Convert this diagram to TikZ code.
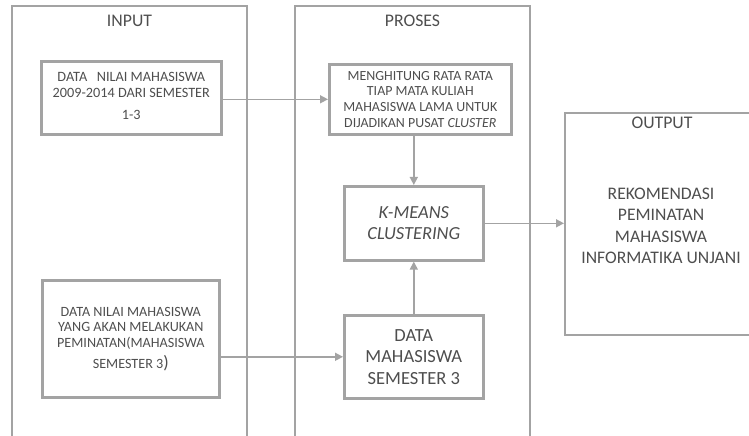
\documentclass[tikz,border=0pt]{standalone}
\usepackage{fontspec}
\setmainfont{Carlito}
\usetikzlibrary{arrows.meta}
\definecolor{frame}{HTML}{A3A3A3}
\definecolor{ink}{HTML}{4E4E4E}
\newcommand{\fs}[2]{\fontsize{#1}{#2}\selectfont}
\begin{document}
\begin{tikzpicture}[x=1bp,y=-1bp,
  panel/.style={draw=frame,line width=2.2bp},
  box/.style={draw=frame,line width=2.6bp,inner sep=0pt,text=ink,align=center,anchor=north west},
  title/.style={text=ink,font=\fs{17.8}{21}},
  link/.style={draw=frame,line width=1.5bp,-{Triangle[length=8bp,width=8bp]}}]
\useasboundingbox (0,0) rectangle (749,436);
\clip (0,0) rectangle (749,436);

% column frames, open at the bottom
\draw[panel] (12,440) |- (247,6) -- (247,440);
\draw[panel] (295,440) |- (530,6) -- (530,440);
\node[panel,anchor=north west,minimum width=220bp,minimum height=222bp,inner sep=0pt] (outp) at (564,112) {};

\node[title] (tin) at (129.5,21) {INPUT};
\node[title] (tpro) at (412.5,21) {PROSES};
\node[title] (tout) at (662,123) {OUTPUT};

% input boxes
\node[box,minimum width=180bp,minimum height=73bp,font=\fs{14.3}{15.5}] (b1) at (40,60)
  {\raisebox{2.5bp}{\begin{tabular}{@{}c@{}}DATA\ \ \ NILAI MAHASISWA\\2009-2014 DARI SEMESTER\\[7bp]1-3\end{tabular}}};
\node[box,minimum width=177bp,minimum height=117bp,font=\fs{14.2}{15.6}] (b3) at (41,279)
  {DATA NILAI MAHASISWA\\YANG AKAN MELAKUKAN\\PEMINATAN(MAHASISWA\\[5.5bp]SEMESTER 3{\fs{18}{18})}};

% process boxes
\node[box,minimum width=182bp,minimum height=70bp,font=\fs{14}{15.8}] (b2) at (328,63)
  {MENGHITUNG RATA RATA\\TIAP MATA KULIAH\\MAHASISWA LAMA UNTUK\\DIJADIKAN PUSAT \textit{CLUSTER}};
\node[box,minimum width=139bp,minimum height=74bp,font=\fs{18.5}{21.2}] (km) at (343,185)
  {\textit{K-MEANS}\\\textit{CLUSTERING}};
\node[box,minimum width=139bp,minimum height=83bp,font=\fs{18.6}{21.7}] (dm) at (343,314)
  {DATA\\MAHASISWA\\SEMESTER 3};

% output text
\node[text=ink,align=center,font=\fs{17.7}{21.6}] (rek) at (661,226)
  {REKOMENDASI\\PEMINATAN\\MAHASISWA\\INFORMATIKA UNJANI};

% connectors
\draw[link] (b1.east |- b2.west) -- (b2.west);
\draw[link] (km.north |- b2.south) -- (km.north);
\draw[link] (dm.north) -- (km.south);
\draw[link] (b3.east |- dm.west) -- (dm.west);
\draw[link] (km.east) -- (outp.west |- km.east);
\end{tikzpicture}
\end{document}
